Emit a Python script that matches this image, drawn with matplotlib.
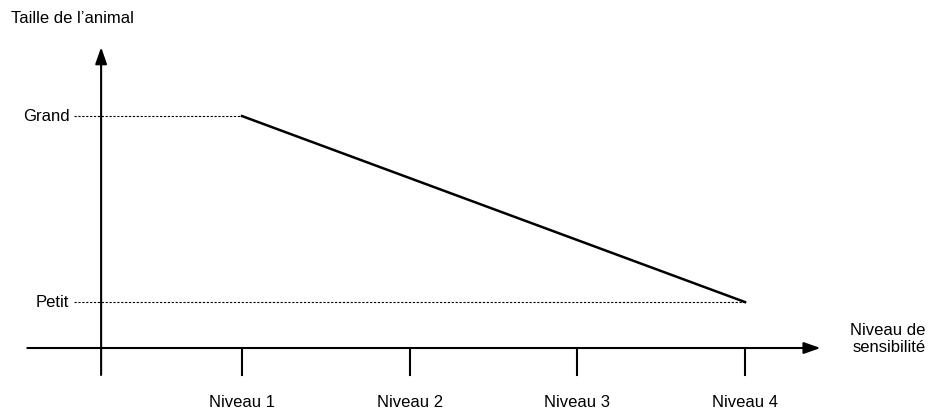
import matplotlib
matplotlib.use("Agg")
import matplotlib.pyplot as plt

levels = [1, 2, 3, 4]
tick_labels = ["Niveau 1", "Niveau 2", "Niveau 3", "Niveau 4"]
size_values = [1, 0]          # Grand at Niveau 1, Petit at Niveau 4
line_x = [1, 4]
size_labels = ["Petit", "Grand"]
size_ticks = [0, 1]

plt.rcParams['font.family'] = ['Liberation Sans', 'DejaVu Sans']
fig = plt.figure(figsize=(9.29, 4.12), dpi=100)
ax = fig.add_axes([0, 0, 1, 1])
ax.set_xlim(-0.443, 5.097)
ax.set_ylim(-0.591, 1.624)
ax.axis('off')

y_axis_x = 0.16
x_axis_y = -0.247
fs = 12
# axes with arrows
ax.annotate("", xy=(4.45, x_axis_y), xytext=(-0.28, x_axis_y),
            arrowprops=dict(arrowstyle="-|>,head_length=1.0,head_width=0.35", color="black", lw=1.5, shrinkA=0, shrinkB=0))
ax.annotate("", xy=(y_axis_x, 1.37), xytext=(y_axis_x, -0.392),
            arrowprops=dict(arrowstyle="-|>,head_length=1.0,head_width=0.35", color="black", lw=1.5, shrinkA=0, shrinkB=0))
# ticks
for lv, lab in zip(levels, tick_labels):
    ax.plot([lv, lv], [x_axis_y, -0.392], color="black", lw=1.5)
    ax.text(lv, -0.54, lab, ha="center", va="center", fontsize=fs)
# dashed guides
ax.plot([-0.0, line_x[0]], [size_values[0]] * 2, ls=(0, (2, 1.5)), color="black", lw=0.8)
ax.plot([-0.0, line_x[1]], [size_values[1]] * 2, ls=(0, (2, 1.5)), color="black", lw=0.8)
for v, lab in zip(size_ticks, size_labels):
    ax.text(-0.03, v, lab, ha="right", va="center", fontsize=fs)
# data line
ax.plot(line_x, size_values, color="black", lw=1.8)
ax.text(-0.38, 1.525, "Taille de l’animal", ha="left", va="center", fontsize=fs)
ax.text(5.075, -0.2, "Niveau de\nsensibilité", ha="right", va="center", fontsize=fs, linespacing=1.15)
fig.savefig("out.png", dpi=100)
